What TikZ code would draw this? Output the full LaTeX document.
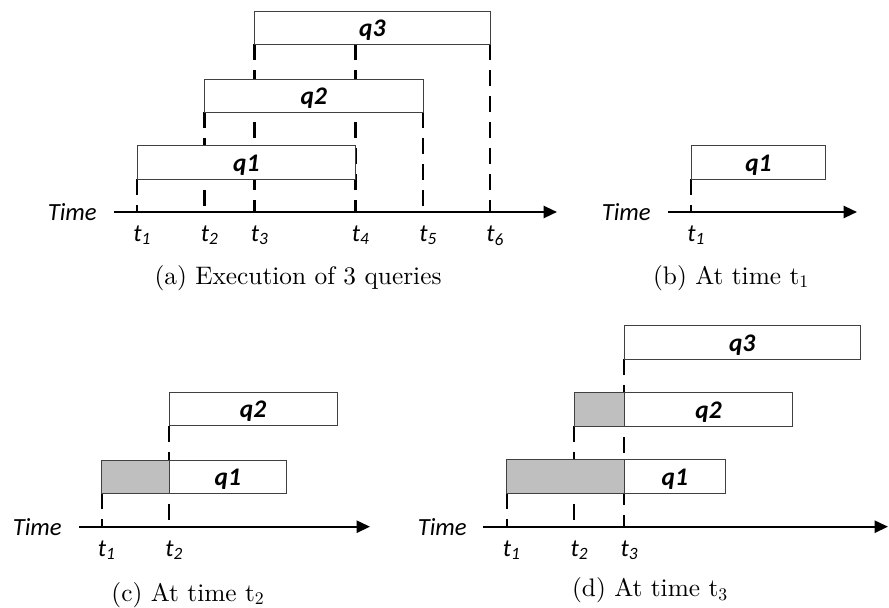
\documentclass[tikz,border=0pt]{standalone}
\usepackage{fontspec}
\newfontfamily\calib{Carlito}
\newfontfamily\capfont{lmroman10-regular.otf}
\usetikzlibrary{arrows.meta,calc}

\definecolor{elapsed}{RGB}{191,191,191}

\tikzset{
  qbox/.style={draw=black!75, line width=0.6pt, fill=white},
  qdone/.style={draw=black!75, line width=0.6pt, fill=elapsed},
  tline/.style={line width=1.65pt, dash pattern=on 12pt off 7.5pt},
  taxis/.style={line width=1.7pt, -{Triangle[length=10pt,width=9pt]}},
  qlab/.style={anchor=base, inner sep=0pt, font=\calib\bfseries\itshape\fontsize{19}{21}\selectfont},
  tlab/.style={anchor=base west, inner sep=0pt, font=\calib\itshape\fontsize{18.5}{20}\selectfont},
  timelab/.style={anchor=east, inner sep=0pt, font=\calib\itshape\fontsize{18.5}{20}\selectfont},
  caplab/.style={anchor=base, inner sep=0pt, font=\capfont\fontsize{19}{22}\selectfont},
}

\begin{document}
\begin{tikzpicture}[x=0.75pt,y=0.75pt,yscale=-1,xscale=1]
\useasboundingbox (0,0) rectangle (889,607);

%---------------- (a) three queries ----------------
\coordinate (a0) at (114,212);
\coordinate (a1) at (137,212);
\coordinate (a2) at (204.5,212);
\coordinate (a3) at (254.5,212);
\coordinate (a4) at (355.5,212);
\coordinate (a5) at (423,212);
\coordinate (a6) at (490,212);
\coordinate (aend) at (557,212);
% bottom edges of the bars
\coordinate (aq1) at (0,179);
\coordinate (aq2) at (0,112);
\coordinate (aq3) at (0,44);

%Dashed Lines
\draw [tline] (a1 |- aq1) -- (a1);
\draw [tline] (a2 |- aq2) -- (a2);
\draw [tline] (a3 |- aq3) -- (a3);
\draw [tline] (a4 |- aq3) -- (a4);
\draw [tline] (a5 |- aq2) -- (a5);
\draw [tline] (a6 |- aq3) -- (a6);

%Shape: Rectangle
\draw [qbox] (137,145) rectangle (355.5,179);
\draw [qbox] (204.5,79) rectangle (423,112);
\draw [qbox] (254.5,11) rectangle (490,44);

%Axis
\draw [taxis] (a0) -- (aend);

% Text Node
\node [qlab] (aq1lab) at (246.25,171) {q1};
\node [qlab] (aq2lab) at (313.75,104) {q2};
\node [qlab] (aq3lab) at (372.25,36) {q3};
\node [timelab] (atime) at (97,212) {Time};
\foreach \i in {1,...,6}
  \node [tlab] (at\i) at ($(a\i)+(-4,29.5)$) {t\textsubscript{\i}};
\node [caplab] (acap) at (298,284) {(a) Execution of 3 queries};

%---------------- (b) at time t1 ----------------
\coordinate (b0) at (668,212);
\coordinate (b1) at (691,212);
\coordinate (bend) at (857,212);
\coordinate (bq1) at (0,179.3);

\draw [tline] (b1 |- bq1) -- (b1);
\draw [qbox] (691,145.3) rectangle (825.7,179.3);
\draw [taxis] (b0) -- (bend);

\node [qlab] (bq1lab) at (758.35,171.3) {q1};
\node [timelab] (btime) at (651,212) {Time};
\node [tlab] (bt1) at ($(b1)+(-4,29.5)$) {t\textsubscript{1}};
\node [caplab] (bcap) at (731,284) {(b) At time t\textsubscript{1}};

%---------------- (c) at time t2 ----------------
\coordinate (c0) at (79,526.7);
\coordinate (c1) at (101.7,526.7);
\coordinate (c2) at (169,526.7);
\coordinate (cend) at (370,526.7);
\coordinate (cq1) at (0,493.3);
\coordinate (cq2) at (0,425.7);

\draw [tline] (c1 |- cq1) -- (c1);
\draw [tline] (c2 |- cq2) -- (c2);

\draw [qdone] (101.7,460) rectangle (169,493.3);
\draw [qbox] (169,460) rectangle (286.7,493.3);
\draw [qbox] (169,392.3) rectangle (337,425.7);
\draw [taxis] (c0) -- (cend);

\node [qlab] (cq1lab) at (227.85,485.3) {q1};
\node [qlab] (cq2lab) at (253,417.7) {q2};
\node [timelab] (ctime) at (62,526.7) {Time};
\foreach \i in {1,2}
  \node [tlab] (ct\i) at ($(c\i)+(-4,29.5)$) {t\textsubscript{\i}};
\node [caplab] (ccap) at (188,601) {(c) At time t\textsubscript{2}};

%---------------- (d) at time t3 ----------------
\coordinate (d0) at (483,526.7);
\coordinate (d1) at (506.7,526.7);
\coordinate (d2) at (574.3,526.7);
\coordinate (d3) at (624.3,526.7);
\coordinate (dend) at (888,526.7);
\coordinate (dq1) at (0,493);
\coordinate (dq2) at (0,426);
\coordinate (dq3) at (0,359);

\draw [tline] (d1 |- dq1) -- (d1);
\draw [tline] (d2 |- dq2) -- (d2);
\draw [tline] (d3 |- dq3) -- (d3);

\draw [qdone] (506.7,459.7) rectangle (624.3,493);
\draw [qbox] (624.3,459.7) rectangle (725.3,493);
\draw [qdone] (574.3,392.3) rectangle (624.3,426);
\draw [qbox] (624.3,392.3) rectangle (792.7,426);
\draw [qbox] (624.3,325) rectangle (860,359);
\draw [taxis] (d0) -- (dend);

\node [qlab] (dq1lab) at (674.8,485) {q1};
\node [qlab] (dq2lab) at (708.5,418) {q2};
\node [qlab] (dq3lab) at (742.15,351) {q3};
\node [timelab] (dtime) at (467,526.7) {Time};
\foreach \i in {1,2,3}
  \node [tlab] (dt\i) at ($(d\i)+(-4,29.5)$) {t\textsubscript{\i}};
\node [caplab] (dcap) at (650,596.5) {(d) At time t\textsubscript{3}};

\end{tikzpicture}
\end{document}
